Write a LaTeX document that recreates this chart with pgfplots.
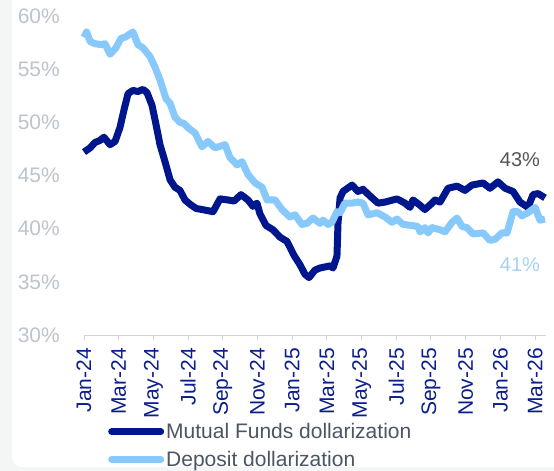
\documentclass[border=0pt]{standalone}
\usepackage{fontspec}
\setmainfont{Liberation Sans}
\usepackage{pgfplots}
\pgfplotsset{compat=1.18}
\definecolor{mfnavy}{RGB}{0,22,140}
\definecolor{deplight}{RGB}{135,201,250}
\definecolor{ticknavy}{RGB}{10,30,140}
\definecolor{ylabgrey}{RGB}{188,196,204}
\definecolor{axisgrey}{RGB}{205,212,220}
\definecolor{legendgrey}{RGB}{75,85,99}
\definecolor{notegrey}{RGB}{85,85,85}
\definecolor{notelight}{RGB}{168,210,242}
\definecolor{stripgrey}{RGB}{244,246,246}

\begin{document}
\begin{tikzpicture}
\path[use as bounding box] (0pt,0pt) rectangle (554pt,471pt);
\fill[stripgrey] (0pt,0pt) rectangle (554pt,471pt);
\fill[white, rounded corners=10pt] (12pt,4pt) rectangle (580pt,500pt);

\begin{axis}[
  at={(84pt,136pt)}, anchor=south west,
  scale only axis,
  width=461.5pt, height=319pt,
  xmin=0, xmax=26.6,
  ymin=30, ymax=60,
  axis x line*=bottom, axis y line*=left,
  x axis line style={draw=axisgrey, line width=1pt, -},
  y axis line style={draw=none},
  xtick={0,2,...,26},
  xticklabels={Jan-24,Mar-24,May-24,Jul-24,Sep-24,Nov-24,Jan-25,Mar-25,May-25,Jul-25,Sep-25,Nov-25,Jan-26,Mar-26},
  xtick style={draw=axisgrey, line width=1pt},
  tick align=outside, major tick length=5pt,
  xticklabel style={yshift=-8pt, rotate=90, anchor=east, inner sep=0pt, text=ticknavy, font=\fontsize{21}{24}\selectfont},
  ytick={30,35,...,60},
  ytick style={draw=none},
  yticklabel={\pgfmathparse{int(\tick)}\pgfmathresult\%},
  yticklabel style={anchor=east, inner sep=0pt, xshift=-19pt, text=ylabgrey, font=\fontsize{21}{24}\selectfont},
  clip=false,
  legend style={at={(axis description cs:0.052,-0.27)}, anchor=north west, draw=none, fill=none,
    inner sep=0pt, row sep=7pt, font=\fontsize{21}{24}\selectfont, text=legendgrey},
  legend cell align=left,
  legend image code/.code={\draw[#1, line cap=round] (0pt,0pt) -- (49pt,0pt);},
]
\addplot[mfnavy, line width=7pt, line join=round] coordinates {
(0.00,47.2) (0.35,47.6) (0.63,48.1) (0.92,48.3) (1.15,48.6) (1.50,47.9) (1.79,48.2)
(2.07,49.5) (2.31,51.2) (2.54,52.7) (2.82,53.0) (3.11,52.9) (3.40,53.1) (3.63,52.8)
(3.92,51.6) (4.15,49.8) (4.38,47.9) (4.67,46.3) (4.96,44.6) (5.24,43.9) (5.53,43.6)
(5.82,42.7) (6.11,42.3) (6.46,41.9) (6.80,41.8) (7.44,41.6) (7.84,42.8) (8.30,42.7)
(8.65,42.6) (9.05,43.2) (9.45,42.7) (9.74,42.1) (9.97,42.4) (10.14,41.4) (10.49,40.3)
(10.89,39.9) (11.30,39.2) (11.70,38.8) (12.10,37.5) (12.45,36.6) (12.74,35.7) (12.97,35.4)
(13.31,36.1) (13.60,36.3) (14.18,36.5) (14.35,36.3) (14.58,37.4) (14.64,40.5) (14.76,42.9)
(14.93,43.5) (15.45,44.1) (15.79,43.5) (16.08,43.7) (16.60,42.9) (16.95,42.4) (17.35,42.5)
(18.04,42.8) (18.50,42.4) (18.79,42.0) (18.96,42.7) (19.37,42.2) (19.65,41.8) (20.06,42.4)
(20.23,42.7) (20.52,42.5) (20.98,43.8) (21.50,44.0) (21.96,43.6) (22.36,44.1) (23.00,44.3)
(23.40,43.8) (23.86,44.4) (24.27,43.8) (24.73,43.5) (25.13,42.5) (25.59,42.0) (25.88,43.2)
(26.17,43.3) (26.57,42.9)
};
\addlegendentry{Mutual Funds dollarization}
\addplot[deplight, line width=7pt, line join=round] coordinates {
(0.00,58.0) (0.15,58.5) (0.35,57.6) (0.63,57.4) (1.04,57.3) (1.21,57.4) (1.50,56.4)
(1.84,57.0) (2.13,57.9) (2.36,58.0) (2.82,58.5) (3.11,57.3) (3.40,57.0) (3.80,56.2)
(4.09,55.2) (4.38,54.0) (4.73,52.2) (4.96,51.8) (5.24,50.5) (5.53,50.0) (5.76,49.9)
(5.99,49.5) (6.40,49.0) (6.80,47.7) (7.15,48.2) (7.55,47.6) (8.13,47.9) (8.41,46.7)
(8.82,46.0) (9.11,46.3) (9.45,45.1) (9.86,44.3) (10.26,43.9) (10.55,42.7) (11.01,42.7)
(11.41,41.8) (11.87,41.1) (12.16,41.3) (12.56,40.4) (12.85,40.5) (13.20,41.0) (13.60,40.5)
(13.78,40.8) (14.06,40.4) (14.29,40.6) (14.58,41.6) (14.76,41.5) (15.04,42.4) (15.45,42.4)
(15.79,42.5) (16.08,42.4) (16.37,41.3) (16.89,41.5) (17.35,41.1) (17.75,40.6) (18.04,40.9)
(18.39,40.4) (18.90,40.3) (19.25,40.2) (19.37,39.7) (19.65,40.1) (19.83,39.6) (20.06,40.1)
(20.52,39.9) (20.81,39.7) (21.21,40.6) (21.50,41.0) (21.79,40.2) (22.07,40.1) (22.42,39.5)
(23.00,39.6) (23.40,38.9) (23.69,39.0) (24.09,39.6) (24.38,39.6) (24.73,41.6) (25.01,41.6)
(25.24,41.2) (25.59,41.5) (26.00,42.0) (26.28,40.8) (26.57,40.9)
};
\addlegendentry{Deposit dollarization}
\node[text=notegrey, font=\fontsize{20}{24}\selectfont] at (axis cs:25.13,46.46) {43\%};
\node[text=notelight, font=\fontsize{20}{24}\selectfont] at (axis cs:25.13,36.58) {41\%};
\end{axis}
\end{tikzpicture}
\end{document}
